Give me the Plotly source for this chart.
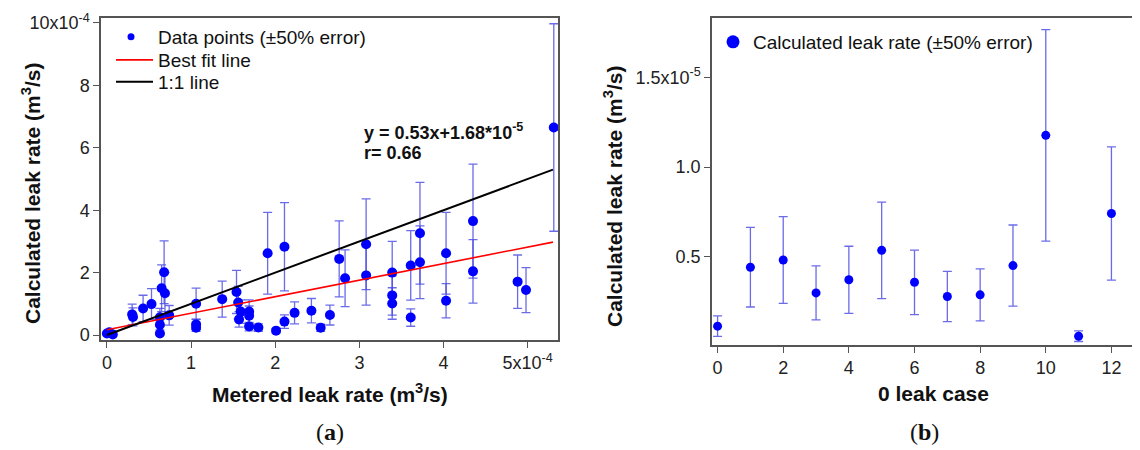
import plotly.graph_objects as go

# ---------------- data ----------------
# Panel (a): metered vs calculated leak rate, in units of 1e-4 m^3/s
metered = [0.00, 0.03, 0.07, 0.30, 0.31, 0.43, 0.53, 0.65, 0.68, 0.69, 0.63, 0.63, 0.63, 0.74,
           1.06, 1.06, 1.06, 1.37, 1.54, 1.56, 1.59, 1.57, 1.69, 1.69, 1.69, 1.80, 1.91, 2.01,
           2.11, 2.11, 2.23, 2.43, 2.54, 2.65, 2.76, 2.83, 3.08, 3.08, 3.39, 3.39, 3.39, 3.61,
           3.61, 3.72, 3.72, 4.03, 4.03, 4.35, 4.35, 4.88, 4.98, 5.31]
calculated = [0.05, 0.09, 0.02, 0.66, 0.58, 0.85, 0.99, 1.50, 2.01, 1.34, 0.57, 0.33, 0.05, 0.63,
              1.00, 0.34, 0.23, 1.15, 1.38, 1.04, 0.75, 0.50, 0.75, 0.62, 0.27, 0.24, 2.62, 0.14,
              2.83, 0.43, 0.71, 0.78, 0.23, 0.64, 2.44, 1.82, 2.91, 1.91, 2.00, 1.27, 1.01, 2.23,
              0.56, 3.26, 2.33, 2.62, 1.10, 3.65, 2.04, 1.71, 1.44, 6.65]
error_pct = 50
fit_slope = 0.53
fit_intercept = 0.168          # 1.68e-5 m^3/s in units of 1e-4
line_x = [0.0, 5.3]
a_xtick_vals = [0, 1, 2, 3, 4, 5]
a_xtick_text = ["0", "1", "2", "3", "4", "5x10<sup>-4</sup>"]
a_ytick_vals = [0, 2, 4, 6, 8, 10]
a_ytick_text = ["0", "2", "4", "6", "8", "10x10<sup>-4</sup>"]

# Panel (b): zero-leak cases, calculated leak rate in units of 1e-5 m^3/s
cases = [0, 1, 2, 3, 4, 5, 6, 7, 8, 9, 10, 11, 12]
zero_leak = [0.115, 0.443, 0.483, 0.300, 0.373, 0.537, 0.359, 0.280, 0.289, 0.452, 1.177, 0.059, 0.742]
b_xtick_vals = [0, 2, 4, 6, 8, 10, 12]
b_ytick_vals = [0.5, 1.0, 1.5]
b_ytick_text = ["0.5", "1.0", "1.5x10<sup>-5</sup>"]

# ---------------- styling ----------------
OFF = 8                      # page body margin of the html page
W, H = 1140 - OFF, 450 - OFF
FONT = "Liberation Sans, Arial, sans-serif"
BLUE = "#0000ff"
ERR = "rgba(70,70,228,0.8)"
AX = "#555555"

def px(x):
    return (x - OFF) / W

def py(y):
    return 1 - (y - OFF) / H

fig = go.Figure()

# panel (a) data
fig.add_trace(go.Scatter(
    x=metered, y=calculated, mode="markers", xaxis="x", yaxis="y",
    marker=dict(color=BLUE, size=10),
    error_y=dict(type="percent", value=error_pct, color=ERR, thickness=1.3, width=4.5),
    showlegend=False))
fig.add_trace(go.Scatter(
    x=[None], y=[None], mode="markers", xaxis="x", yaxis="y",
    marker=dict(color=BLUE, size=7), name="Data points (±50% error)", legend="legend"))
fig.add_trace(go.Scatter(
    x=line_x, y=[fit_slope * v + fit_intercept for v in line_x], mode="lines",
    xaxis="x", yaxis="y", line=dict(color="#ff0000", width=1.6),
    name="Best fit line", legend="legend2"))
fig.add_trace(go.Scatter(
    x=line_x, y=line_x, mode="lines", xaxis="x", yaxis="y",
    line=dict(color="#000000", width=2),
    name="1:1 line", legend="legend3"))

# panel (b) data
fig.add_trace(go.Scatter(
    x=cases, y=zero_leak, mode="markers", xaxis="x2", yaxis="y2",
    marker=dict(color=BLUE, size=9),
    error_y=dict(type="percent", value=error_pct, color=ERR, thickness=1.3, width=4.5),
    showlegend=False))
fig.add_trace(go.Scatter(
    x=[None], y=[None], mode="markers", xaxis="x2", yaxis="y2",
    marker=dict(color=BLUE, size=13), name="Calculated leak rate (±50% error)",
    legend="legend4"))

tickfont = dict(family=FONT, size=18, color="#222222")
common = dict(showline=True, linecolor=AX, linewidth=1.5, ticks="outside", ticklen=6,
              tickcolor=AX, tickwidth=1.2, showgrid=False, zeroline=False,
              tickfont=tickfont, tickmode="array", automargin=False, layer="above traces")

legfont = dict(family=FONT, size=19, color="#111111")
def leg(x, y, **kw):
    d = dict(x=px(x), y=py(y), xanchor="left", yanchor="middle",
             bgcolor="rgba(0,0,0,0)", font=legfont)
    d.update(kw)
    return d

fig.update_layout(
    template="none",
    width=W, height=H,
    margin=dict(l=0, r=0, t=0, b=0, pad=0),
    paper_bgcolor="white", plot_bgcolor="white",
    font=dict(family=FONT, size=18, color="#222222"),
    xaxis=dict(domain=[px(101), px(558)], range=[-0.07, 5.36], anchor="y",
               tickvals=a_xtick_vals, ticktext=a_xtick_text, mirror=True, **common),
    yaxis=dict(domain=[py(340), py(18)], range=[-0.16, 10.16], anchor="x",
               tickvals=a_ytick_vals, ticktext=a_ytick_text, mirror=True, **common),
    xaxis2=dict(domain=[px(712), px(1139)], range=[-0.17, 12.84], anchor="y2",
                tickvals=b_xtick_vals, ticktext=[str(v) for v in b_xtick_vals],
                mirror=True, **common),
    yaxis2=dict(domain=[py(345), py(18)], range=[0.01, 1.83], anchor="x2",
                tickvals=b_ytick_vals, ticktext=b_ytick_text, mirror=False, **common),
    legend=leg(104, 37, itemwidth=44),
    legend2=leg(111, 60, itemwidth=37),
    legend3=leg(111, 82, itemwidth=37),
    legend4=leg(713, 42),
)

title_font = dict(family=FONT, size=21, color="#111111")
ann = [
    dict(x=px(330), y=py(393), text="<b>Metered leak rate (m<sup>3</sup>/s)</b>",
         font=title_font),
    dict(x=px(933), y=py(393), text="<b>0 leak case</b>", font=title_font),
    dict(x=px(31), y=py(194), text="<b>Calculated leak rate (m<sup>3</sup>/s)</b>",
         font=title_font, textangle=-90),
    dict(x=px(613), y=py(197), text="<b>Calculated leak rate (m<sup>3</sup>/s)</b>",
         font=title_font, textangle=-90),
    dict(x=px(362), y=py(131), text="<b>y = 0.53x+1.68*10<sup>-5</sup></b>",
         font=dict(family=FONT, size=18, color="#111111"), xanchor="left"),
    dict(x=px(362), y=py(153), text="<b>r= 0.66</b>",
         font=dict(family=FONT, size=18, color="#111111"), xanchor="left"),
    dict(x=px(330), y=py(432), text="(<b>a</b>)",
         font=dict(family="Liberation Serif, DejaVu Serif, serif", size=24, color="#111111")),
    dict(x=px(924), y=py(432), text="(<b>b</b>)",
         font=dict(family="Liberation Serif, DejaVu Serif, serif", size=24, color="#111111")),
]
for a in ann:
    a.setdefault("xanchor", "center")
    a.update(xref="paper", yref="paper", showarrow=False, yanchor="middle")
fig.update_layout(annotations=ann)

fig.write_html("out.html")
